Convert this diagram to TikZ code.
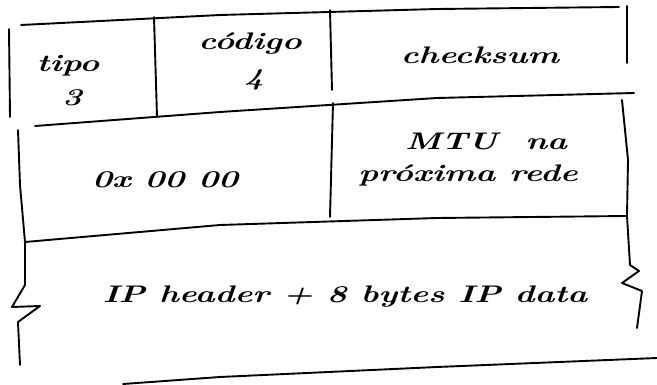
\documentclass[tikz,border=0pt]{standalone}
\usepackage{graphicx}
\newcommand{\hwtxt}[1]{\scalebox{1.4}[1]{#1}}
\tikzset{
  pen/.style={line width=1.9pt, line join=round, line cap=round},
  hand/.style={anchor=base, inner sep=0pt, font=\fontsize{24}{28}\selectfont\bfseries\itshape}
}
\begin{document}
\begin{tikzpicture}[x=1pt,y=-1pt]
\useasboundingbox (0,0) rectangle (657,385);
% corner coordinates
\coordinate (tl) at (21,25);
\coordinate (tr) at (619,7);
\coordinate (ml) at (35,126);
\coordinate (mr) at (634,93);
\coordinate (bl) at (25,242);
\coordinate (br) at (627,216);
% top line
\draw[pen] (tl) -- (220,15) -- (437,9) -- (tr);
% row 1 verticals
\draw[pen] (9,29) -- (10,117);
\draw[pen] (154,17) -- (157,117);
\draw[pen] (330,10) -- (332,90);
\draw[pen] (627,6) -- (627,63);
% middle line
\draw[pen] (ml) -- (220,112) -- (437,98) -- (mr);
% row 2 verticals
\draw[pen] (18,130) -- (20,185) -- (bl);
\draw[pen] (333,103) -- (330,217);
\draw[pen] (622,100) -- (628,160) -- (br);
% row 2 bottom line
\draw[pen] (bl) -- (220,225) -- (437,218) -- (br);
% row 3 sides with break marks
\draw[pen] (bl) -- (25,285) -- (12,307) -- (40,306) -- (18,322) -- (20,365);
\draw[pen] (br) -- (630,265) -- (639,271) -- (622,283) -- (642,291) -- (637,328);
% bottom line
\draw[pen] (123,384) -- (220,377) -- (437,367) -- (657,358);
% texts
\node[hand] (tipo) at (68,72) {\hwtxt{tipo}};
\node[hand] (tres) at (72,106) {\hwtxt{3}};
\node[hand] (cod) at (250,50) {\hwtxt{código}};
\node[hand] (quatro) at (254,86) {\hwtxt{4}};
\node[hand] (chk) at (480,64) {\hwtxt{checksum}};
\node[hand] (zero) at (165,188) {\hwtxt{0x 00 00}};
\node[hand] (mtu) at (486,150) {\hwtxt{MTU\ \ na}};
\node[hand] (prox) at (468,182) {\hwtxt{próxima rede}};
\node[hand] (iph) at (345,302) {\hwtxt{IP header + 8 bytes IP data}};
\end{tikzpicture}
\end{document}
